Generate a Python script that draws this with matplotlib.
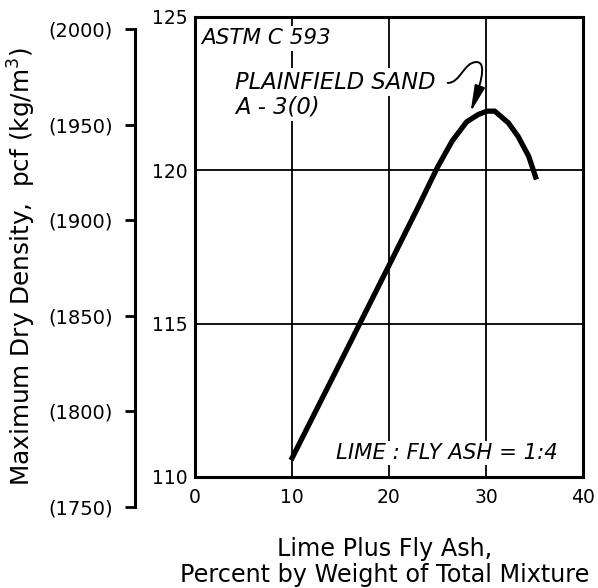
import matplotlib.pyplot as plt
from matplotlib.ticker import FixedLocator
from matplotlib.patches import FancyArrowPatch
from matplotlib.path import Path

# Datos (porcentaje de cal + ceniza, densidad seca maxima pcf)
pct = [9.9, 15.0, 20.0, 23.0, 25.0, 26.5, 28.0, 29.2, 30.1, 30.9, 32.3, 33.3, 34.4, 35.2]
density = [110.55, 113.75, 116.9, 118.8, 120.1, 120.95, 121.58, 121.82, 121.93, 121.93,
           121.55, 121.11, 120.46, 119.7]

x_ticks = [0, 10, 20, 30, 40]
y_ticks = [110, 115, 120, 125]
si_ticks = [1750, 1800, 1850, 1900, 1950, 2000]
si_labels = ['(1750)', '(1800)', '(1850)', '(1900)', '(1950)', '(2000)']

W, H = 598, 588
fig = plt.figure(figsize=(W / 100, H / 100), dpi=100)
plt.rcParams['font.family'] = ['DejaVu Sans']

# Ejes principales
ax = fig.add_axes([195 / W, 1 - 477 / H, (583 - 195) / W, (477 - 17) / H])
ax.set_xlim(0, 40)
ax.set_ylim(110, 125)
ax.set_xticks(x_ticks)
ax.set_yticks(y_ticks)
ax.tick_params(length=0, labelsize=13.5, width=0)
ax.tick_params(axis='x', pad=8)
ax.tick_params(axis='y', pad=5)
for s in ax.spines.values():
    s.set_linewidth(2.2)

# Rejilla
for gx in [10, 20, 30]:
    ax.axvline(gx, color='black', lw=1.3, zorder=1)
for gy in [115, 120]:
    ax.axhline(gy, color='black', lw=1.3, zorder=1)

# Curva
ax.plot(pct, density, color='black', lw=3.8, solid_capstyle='butt',
        solid_joinstyle='round', zorder=3)

# Textos dentro del grafico
box = dict(facecolor='white', edgecolor='none', pad=1.5)
ax.text(0.6, 124.3, 'ASTM C 593', style='italic', fontsize=15.5, va='center',
        ha='left', bbox=box, zorder=2)
ax.text(4.1, 122.88, 'PLAINFIELD SAND', style='italic', fontsize=16.3,
        va='center', ha='left', bbox=box, zorder=2)
ax.text(4.1, 122.05, 'A - 3(0)', style='italic', fontsize=16.3,
        va='center', ha='left', bbox=box, zorder=2)
ax.text(14.5, 110.78, 'LIME : FLY ASH = 1:4', style='italic', fontsize=15.3,
        va='center', ha='left', bbox=box, zorder=2)

# Flecha enrollada hacia el pico
arrow_path = Path([(26.05, 122.85), (27.38, 122.85), (27.69, 123.53), (29.03, 123.53),
                   (30.26, 123.53), (29.23, 122.62), (28.41, 121.9)],
                  [Path.MOVETO, Path.CURVE4, Path.CURVE4, Path.CURVE4,
                   Path.CURVE4, Path.CURVE4, Path.CURVE4])
arrow = FancyArrowPatch(path=arrow_path, transform=ax.transData,
                        arrowstyle='-|>,head_length=1.0,head_width=0.2',
                        mutation_scale=16, color='black', lw=1.4, zorder=4)
ax.add_patch(arrow)

# Eje secundario en kg/m3
ax2 = fig.add_axes([135 / W, 1 - 507 / H, 0.0001, (507 - 29) / H])
ax2.set_ylim(1750, 2000)
ax2.set_xticks([])
ax2.yaxis.set_major_locator(FixedLocator(si_ticks))
ax2.set_yticklabels(si_labels)
ax2.tick_params(axis='y', direction='out', length=7, width=2, labelsize=14, pad=9)
for k in ['top', 'bottom', 'right']:
    ax2.spines[k].set_visible(False)
ax2.spines['left'].set_linewidth(2.2)
ax2.patch.set_visible(False)

# Etiquetas de ejes
fig.text(22 / W, 1 - 267 / H, 'Maximum Dry Density,  pcf (kg/m$^3$)', rotation=90,
         ha='center', va='center', fontsize=17.8)
fig.text(385 / W, 1 - 562 / H, 'Lime Plus Fly Ash,\nPercent by Weight of Total Mixture',
         ha='center', va='center', fontsize=17.2, linespacing=1.12)

fig.savefig('out.png', dpi=100)
